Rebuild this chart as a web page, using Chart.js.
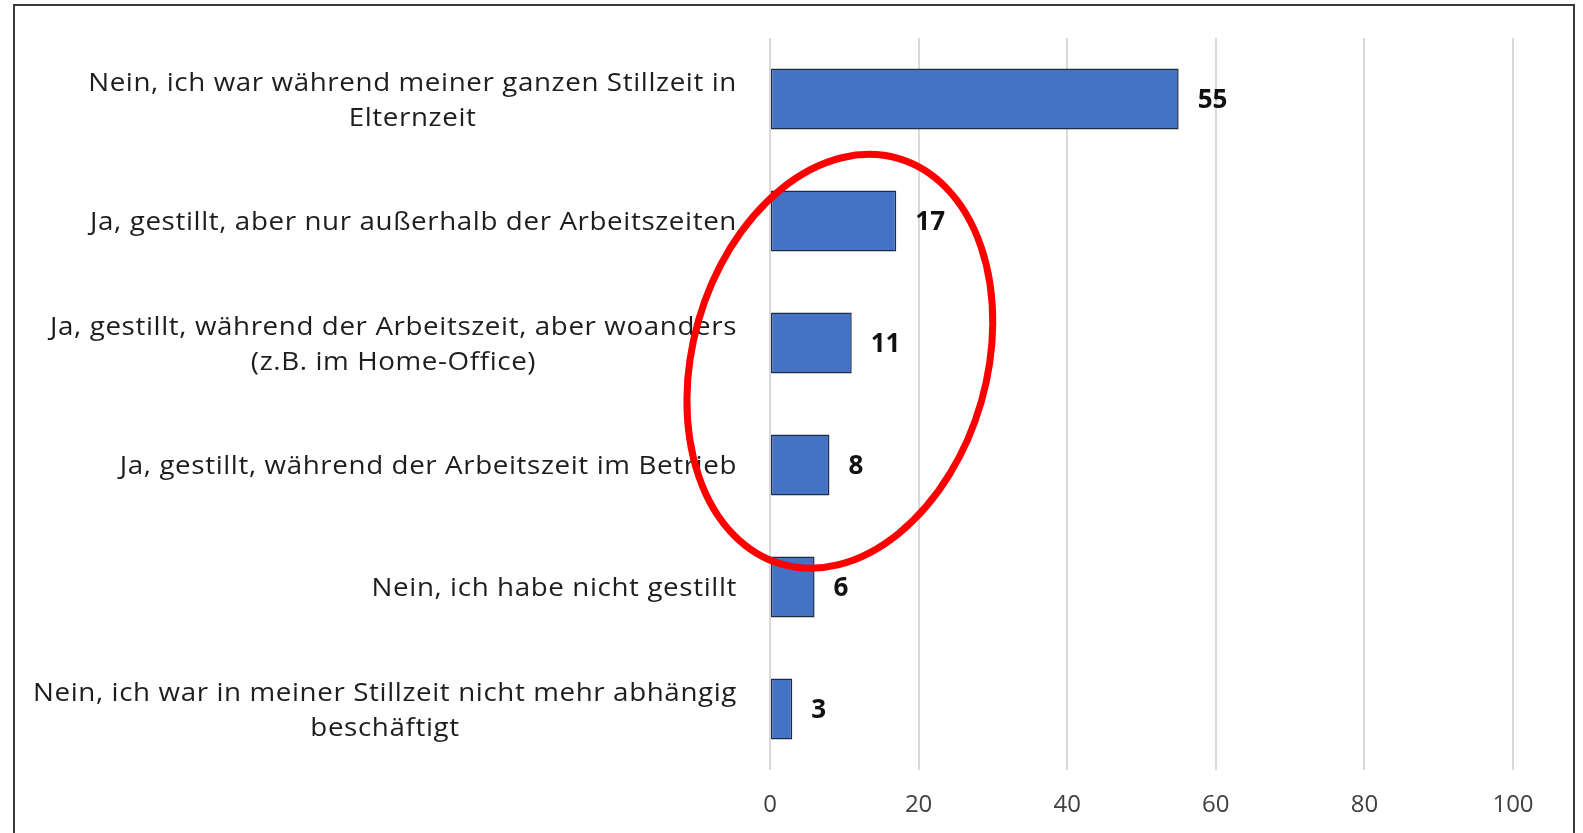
<!DOCTYPE html>
<html>
<head>
<meta charset="utf-8">
<script src="https://cdn.jsdelivr.net/npm/chart.js@4"></script>
<style>
  html, body { margin: 0; padding: 0; background: #fff; overflow: hidden; }
  #frame { position: absolute; left: 13px; top: 4px; width: 1558px; height: 900px; border: 2px solid #3a3a3a; }
  #wrap { position: absolute; left: 0; top: 0; width: 1583px; height: 833px; }
</style>
</head>
<body>
<div id="frame"></div>
<div id="wrap"><canvas id="chart"></canvas></div>
<script>
  const categories = [
    ["Nein, ich war während meiner ganzen Stillzeit in", "Elternzeit"],
    "Ja, gestillt, aber nur außerhalb der Arbeitszeiten",
    ["Ja, gestillt, während der Arbeitszeit, aber woanders", "(z.B. im Home-Office)"],
    "Ja, gestillt, während der Arbeitszeit im Betrieb",
    "Nein, ich habe nicht gestillt",
    ["Nein, ich war in meiner Stillzeit nicht mehr abhängig", "beschäftigt"]
  ];
  const values = [55, 17, 11, 8, 6, 3];
  const xMin = 0;
  const xMax = 100;
  const xStep = 20;

  // red ring drawn around the middle answers (value / category units)
  const highlight = { x: 9.4, y: 2.15, rx: 19.8, ry: 1.73, angle: 16 };

  const FONT = '"Open Sans", "Noto Sans", sans-serif';
  const STRETCH = 1.11;

  const categoryLabels = {
    id: "categoryLabels",
    afterDraw(chart) {
      const { ctx } = chart;
      const y = chart.scales.y;
      const right = y.right - 33;
      ctx.save();
      ctx.font = `25px ${FONT}`;
      ctx.letterSpacing = "0.55px";
      ctx.fillStyle = "#1e1e1e";
      ctx.textBaseline = "middle";
      ctx.textAlign = "center";
      // labels are a bit wider than the font, so stretch the x axis of the context
      ctx.translate(right, 0);
      ctx.scale(STRETCH, 1);
      categories.forEach((label, i) => {
        const lines = Array.isArray(label) ? label : [label];
        const widest = Math.max(...lines.map((l) => ctx.measureText(l).width));
        const cx = -widest / 2;
        const cy = y.getPixelForTick(i) + 2;
        lines.forEach((line, j) => {
          ctx.fillText(line, cx, cy + (j - (lines.length - 1) / 2) * 35);
        });
      });
      ctx.restore();
    }
  };

  const valueLabels = {
    id: "valueLabels",
    afterDatasetsDraw(chart) {
      const { ctx } = chart;
      const meta = chart.getDatasetMeta(0);
      ctx.save();
      ctx.font = `bold 26px ${FONT}`;
      ctx.fillStyle = "#111";
      ctx.textAlign = "left";
      ctx.textBaseline = "middle";
      meta.data.forEach((bar, i) => {
        ctx.fillText(String(values[i]), bar.x + 19, bar.y + 2);
      });
      ctx.restore();
    }
  };

  const ring = {
    id: "ring",
    afterDraw(chart) {
      const { ctx } = chart;
      const x = chart.scales.x;
      const y = chart.scales.y;
      const cx = x.getPixelForValue(highlight.x);
      const cy = y.getPixelForValue(highlight.y);
      const rx = x.getPixelForValue(highlight.x + highlight.rx) - cx;
      const ry = y.getPixelForValue(highlight.y + highlight.ry) - cy;
      ctx.save();
      ctx.strokeStyle = "#ff0000";
      ctx.lineWidth = 7;
      ctx.beginPath();
      ctx.ellipse(cx, cy, rx, ry, highlight.angle * Math.PI / 180, 0, Math.PI * 2);
      ctx.stroke();
      ctx.restore();
    }
  };

  new Chart(document.getElementById("chart"), {
    type: "bar",
    data: {
      labels: categories,
      datasets: [{
        data: values,
        backgroundColor: "#4472c4",
        borderColor: "#1f2a44",
        borderWidth: 1.5,
        borderSkipped: false,
        barPercentage: 0.5,
        categoryPercentage: 1
      }]
    },
    options: {
      indexAxis: "y",
      responsive: true,
      maintainAspectRatio: false,
      animation: false,
      layout: { padding: { top: 38, right: 70, left: 0, bottom: 0 } },
      plugins: {
        legend: { display: false },
        tooltip: { enabled: false }
      },
      scales: {
        x: {
          min: xMin,
          max: xMax,
          ticks: {
            stepSize: xStep,
            color: "#404040",
            padding: 21,
            font: { family: FONT, size: 24 }
          },
          grid: { color: "#d9d9d9", lineWidth: 2, drawTicks: false },
          border: { display: false },
          afterFit(scale) { scale.height = 63; }
        },
        y: {
          ticks: { display: false },
          grid: { display: false },
          border: { display: false },
          afterFit(scale) { scale.width = 770; }
        }
      }
    },
    plugins: [categoryLabels, valueLabels, ring]
  });
</script>
</body>
</html>
